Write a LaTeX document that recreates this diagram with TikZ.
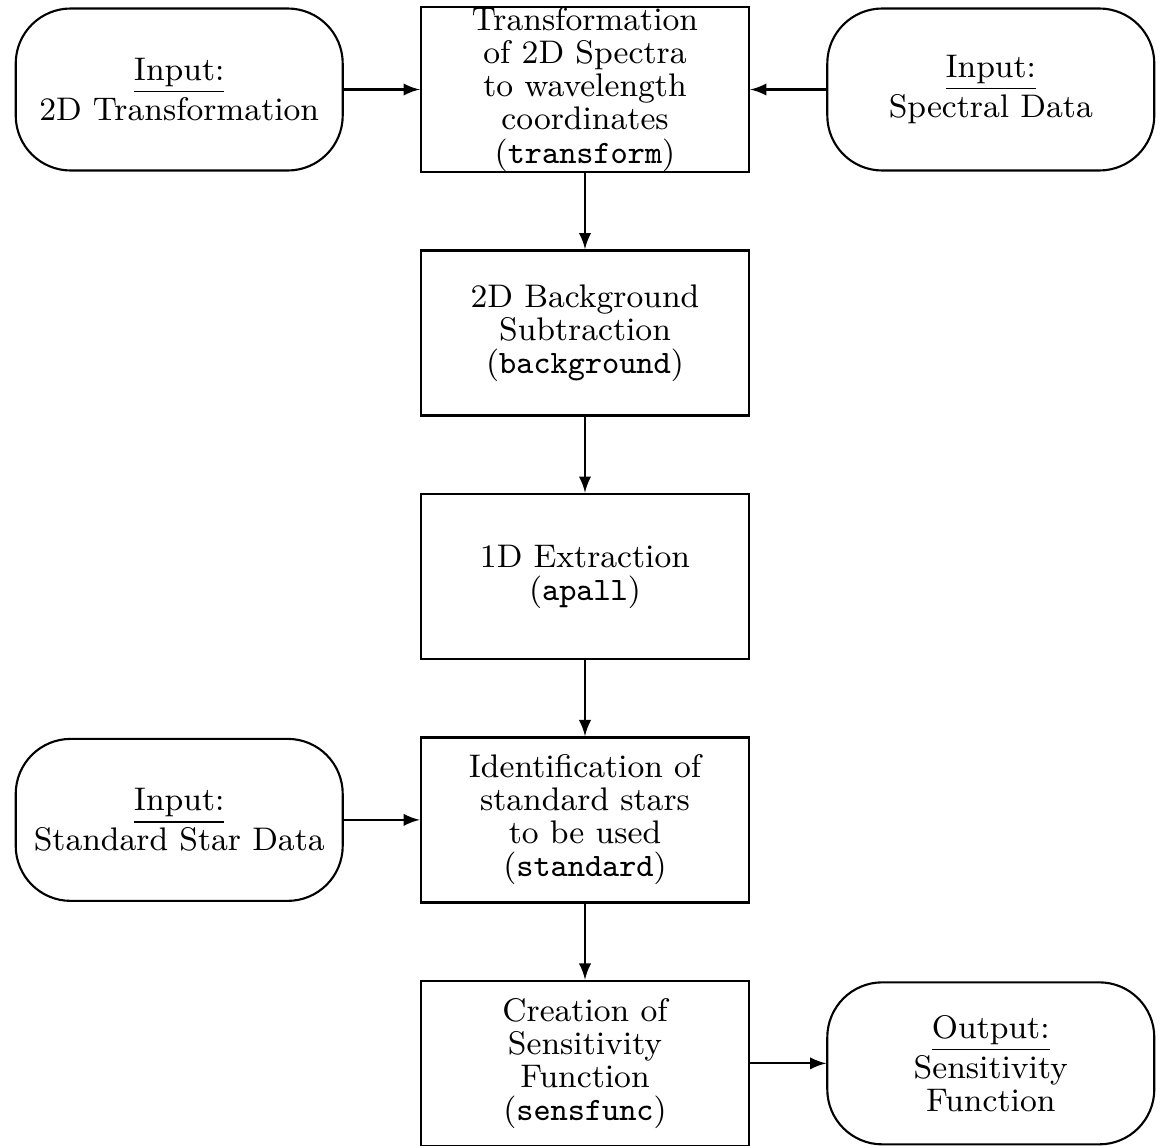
\documentclass[tikz,border=0pt]{standalone}
\usepackage{tikz}
\usetikzlibrary{positioning}

\begin{document}
\begin{tikzpicture}[
    font=\fontsize{9.3}{9.4}\selectfont,
    node distance=7.6mm,
    box/.style={draw, line width=0.7pt, align=center, minimum width=32.8mm, minimum height=16.5mm, inner xsep=2pt, inner ysep=0pt},
    io/.style={draw, line width=0.6pt, rounded corners=5.5mm, align=center, minimum width=32.7mm, minimum height=16.2mm, inner xsep=2pt, inner ysep=0pt},
    arr/.style={->, >=latex, line width=0.6pt}
  ]
  \useasboundingbox (0,0) rectangle (11.63,-11.46);
  % reduction steps
  \node[box] (trans) at (5.85,-0.895) {Transformation\\of 2D Spectra\\to wavelength\\coordinates\\(\texttt{transform})};
  \node[box, below=of trans] (bkg) {2D Background\\Subtraction\\(\texttt{background})};
  \node[box, below=of bkg] (extr) {1D Extraction\\(\texttt{apall})};
  \node[box, below=of extr] (std) {Identification of\\standard stars\\to be used\\(\texttt{standard})};
  \node[box, below=of std] (sens) {Creation of\\Sensitivity\\Function\\(\texttt{sensfunc})};
  % inputs and output
  \node[io, left=of trans] (intrans) {\underline{Input:}\\2D Transformation};
  \node[io, right=of trans] (inspec) {\underline{Input:}\\Spectral Data};
  \node[io, left=of std] (instd) {\underline{Input:}\\Standard Star Data};
  \node[io, right=of sens] (outsens) {\underline{Output:}\\Sensitivity\\Function};
  % edges
  \draw[arr] (intrans) -- (trans);
  \draw[arr] (inspec) -- (trans);
  \draw[arr] (trans) -- (bkg);
  \draw[arr] (bkg) -- (extr);
  \draw[arr] (extr) -- (std);
  \draw[arr] (instd) -- (std);
  \draw[arr] (std) -- (sens);
  \draw[arr] (sens) -- (outsens);
\end{tikzpicture}
\end{document}
